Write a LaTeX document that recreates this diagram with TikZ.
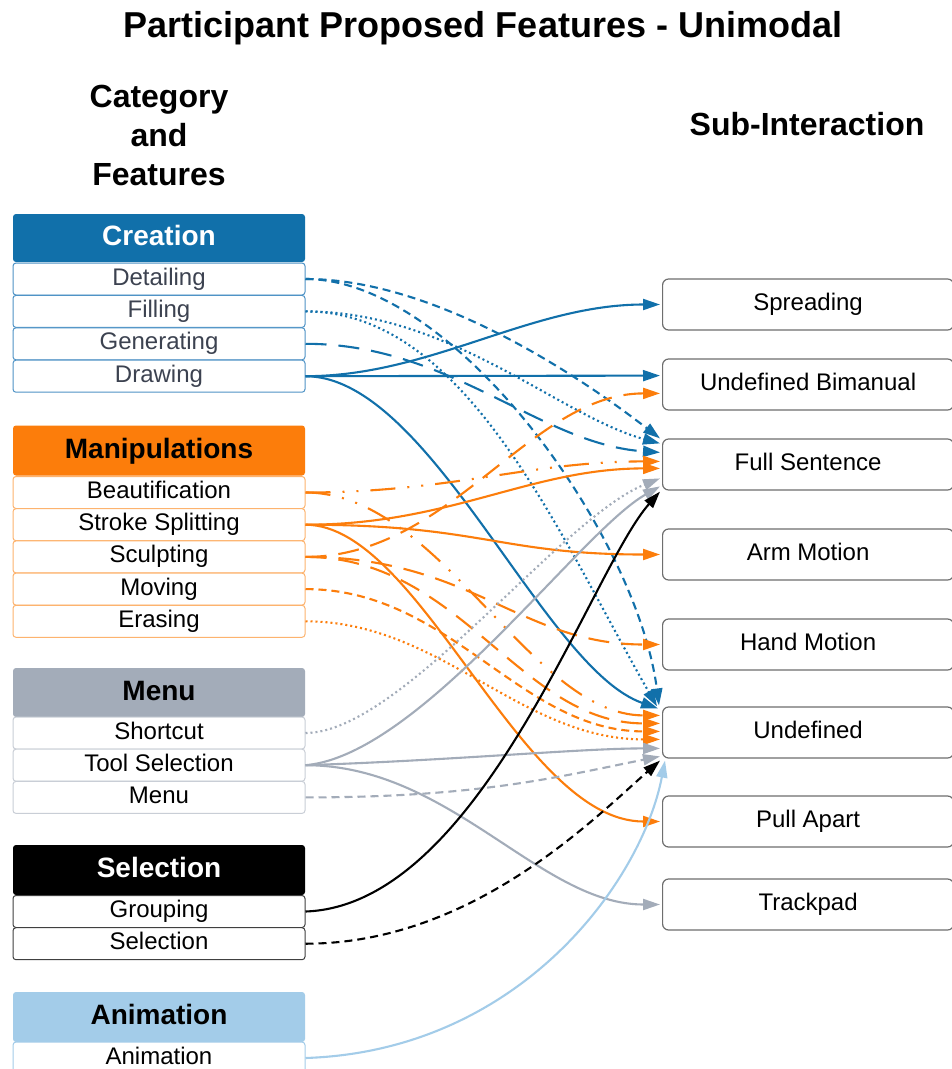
\documentclass[tikz,border=0pt]{standalone}
\usepackage{fontspec}
\setmainfont{Liberation Sans}
\usetikzlibrary{arrows.meta,calc}
\definecolor{cblue}{HTML}{1170AA}
\definecolor{cblueb}{HTML}{4F93C6}
\definecolor{corange}{HTML}{FC7D0B}
\definecolor{coranb}{HTML}{FDB36E}
\definecolor{cgrey}{HTML}{A3ACB9}
\definecolor{cgreyb}{HTML}{C9CED6}
\definecolor{clblue}{HTML}{A3CCE9}
\definecolor{ctext}{HTML}{3C4250}
\definecolor{cbox}{HTML}{6E6E6E}
\definecolor{cselb}{HTML}{404040}
\begin{document}
\begin{tikzpicture}[x=1pt,y=-1pt,
  hdr/.style={rectangle, rounded corners=3pt, minimum width=292pt, inner sep=0pt,
    font=\fontsize{28}{30}\selectfont\bfseries, text height=20pt, text depth=5pt},
  row/.style={rectangle, rounded corners=3pt, draw, line width=1pt, fill=white,
    minimum width=292pt, minimum height=32pt, inner sep=0pt,
    font=\fontsize{24}{26}\selectfont, text height=17pt, text depth=5pt},
  sub/.style={rectangle, rounded corners=6pt, draw=cbox, line width=1.2pt, fill=white,
    minimum width=291pt, minimum height=51pt, inner sep=0pt, anchor=west,
    font=\fontsize{24}{26}\selectfont, text height=17pt, text depth=5pt},
  heading/.style={font=\fontsize{32}{36}\selectfont\bfseries, anchor=base, inner sep=0pt},
  con/.style={line width=2.1pt, -{Triangle[length=17pt,width=11pt]}},
  pdash/.style={dash pattern=on 8pt off 5pt},
  pdot/.style={dash pattern=on 2pt off 3pt},
  plong/.style={dash pattern=on 21pt off 12pt},
  pdd/.style={dash pattern=on 25pt off 12pt on 2pt off 12pt on 2pt off 12pt},
]
\path[use as bounding box, fill=white] (0,0) rectangle (952,1069);

% titles
\node[font=\fontsize{36}{40}\selectfont\bfseries, anchor=base, inner sep=0pt] (title) at (483,37) {Participant Proposed Features - Unimodal};
\node[heading] (cat1) at (159,107) {Category};
\node[heading] (cat2) at (159,146) {and};
\node[heading] (cat3) at (159,185) {Features};
\node[heading] (subint) at (807,135) {Sub-Interaction};

% Creation
\node[hdr, fill=cblue, text=white, minimum height=48pt] (creation) at (159,238) {Creation};
\node[row, draw=cblueb, text=ctext] (detailing) at (159,279) {Detailing};
\node[row, draw=cblueb, text=ctext] (filling) at (159,311.4) {Filling};
\node[row, draw=cblueb, text=ctext] (generating) at (159,343.8) {Generating};
\node[row, draw=cblueb, text=ctext] (drawing) at (159,376.2) {Drawing};

% Manipulations
\node[hdr, fill=corange, text=black, minimum height=50pt] (manip) at (159,450.5) {Manipulations};
\node[row, draw=coranb] (beaut) at (159,492.5) {Beautification};
\node[row, draw=coranb] (stroke) at (159,524.7) {Stroke Splitting};
\node[row, draw=coranb] (sculpt) at (159,556.9) {Sculpting};
\node[row, draw=coranb] (moving) at (159,589.1) {Moving};
\node[row, draw=coranb] (erasing) at (159,621.3) {Erasing};

% Menu
\node[hdr, fill=cgrey, text=black, minimum height=49pt] (menuhdr) at (159,692.5) {Menu};
\node[row, draw=cgreyb] (shortcut) at (159,733) {Shortcut};
\node[row, draw=cgreyb] (toolsel) at (159,765.2) {Tool Selection};
\node[row, draw=cgreyb] (menurow) at (159,797.4) {Menu};

% Selection
\node[hdr, fill=black, text=white, minimum height=50pt] (selhdr) at (159,870) {Selection};
\node[row, draw=cselb] (grouping) at (159,911.5) {Grouping};
\node[row, draw=cselb] (selrow) at (159,943.7) {Selection};

% Animation
\node[hdr, fill=clblue, text=black, minimum height=50pt] (anihdr) at (159,1017) {Animation};
\node[row, draw=clblue] (anirow) at (159,1058) {Animation};

% Sub-interactions
\node[sub] (spread) at (662,304.5) {Spreading};
\node[sub] (bimanual) at (662,384.5) {Undefined Bimanual};
\node[sub] (fullsent) at (662,464.5) {Full Sentence};
\node[sub] (arm) at (662,554.5) {Arm Motion};
\node[sub] (hand) at (662,644.5) {Hand Motion};
\node[sub] (undef) at (662,732.5) {Undefined};
\node[sub] (pull) at (662,821.5) {Pull Apart};
\node[sub] (track) at (662,904.5) {Trackpad};

% Creation connectors
\draw[con, cblue, pdash] (detailing.east) .. controls +(135,0) and +(-70,-54) .. ($(fullsent.north west)+(-2,0)$);
\draw[con, cblue, pdash] (detailing.east) .. controls +(150,0) and +(-22,-170) .. ($(undef.north west)+(-3,-1)$);
\draw[con, cblue, pdot] (filling.east) .. controls +(145,0) and +(-100,-27) .. ($(fullsent.north west)+(-2,5)$);
\draw[con, cblue, pdot] (filling.east) .. controls +(160,0) and +(-100,-175) .. ($(undef.north west)+(-5,0)$);
\draw[con, cblue, plong] (generating.east) .. controls +(145,0) and +(-120,-8) .. ($(fullsent.north west)+(-2,14)$);
\draw[con, cblue] (drawing.east) .. controls +(125,0) and +(-130,0) .. ($(spread.west)+(-2,0)$);
\draw[con, cblue] (drawing.east) -- ($(bimanual.north west)+(-2,17.2)$);
\draw[con, cblue] (drawing.east) .. controls +(125,0) and +(-115,-40) .. ($(undef.north west)+(-4,2)$);

% Manipulation connectors
\draw[con, corange, pdd] (beaut.east) .. controls +(145,0) and +(-130,0) .. ($(fullsent.north west)+(-2,23)$);
\draw[con, corange, pdd] (beaut.east) .. controls +(135,0) and +(-130,0) .. ($(undef.north west)+(-2,9)$);
\draw[con, corange] (stroke.east) .. controls +(145,0) and +(-130,0) .. ($(fullsent.north west)+(-2,30)$);
\draw[con, corange] (stroke.east) .. controls +(175,0) and +(-160,0) .. ($(arm.west)+(-2,0)$);
\draw[con, corange] (stroke.east) .. controls +(115,0) and +(-140,0) .. ($(pull.west)+(-2,0)$);
\draw[con, corange, plong] (sculpt.east) .. controls +(145,0) and +(-130,0) .. ($(bimanual.north west)+(-2,35)$);
\draw[con, corange, plong] (sculpt.east) .. controls +(165,0) and +(-140,0) .. ($(hand.west)+(-2,0)$);
\draw[con, corange, plong] (sculpt.east) .. controls +(155,0) and +(-140,0) .. ($(undef.north west)+(-2,17)$);
\draw[con, corange, pdash] (moving.east) .. controls +(145,0) and +(-140,0) .. ($(undef.north west)+(-2,25)$);
\draw[con, corange, pdot] (erasing.east) .. controls +(135,0) and +(-140,0) .. ($(undef.north west)+(-2,33)$);

% Menu connectors
\draw[con, cgrey, pdot] (shortcut.east) .. controls +(95,0) and +(-100,40) .. ($(fullsent.north west)+(-2,40)$);
\draw[con, cgrey] (toolsel.east) .. controls +(115,-10) and +(-80,45) .. ($(fullsent.north west)+(-2,48)$);
\draw[con, cgrey] (toolsel.east) .. controls +(150,-5) and +(-80,0) .. ($(undef.north west)+(-2,42)$);
\draw[con, cgrey] (toolsel.east) .. controls +(145,0) and +(-120,0) .. ($(track.west)+(-2,0)$);
\draw[con, cgrey, pdash] (menurow.east) .. controls +(175,0) and +(-100,20) .. ($(undef.north west)+(-2,50)$);

% Selection connectors
\draw[con, black] (grouping.east) .. controls +(175,-6) and +(-70,79) .. ($(fullsent.south west)+(-2,1)$);
\draw[con, black, pdash] (selrow.east) .. controls +(165,0) and +(-68,60) .. ($(undef.south west)+(-2,2)$);

% Animation connector
\draw[con, clblue] (anirow.east) .. controls +(215,-7) and +(-23,120) .. ($(undef.south west)+(3,2)$);
\end{tikzpicture}
\end{document}
